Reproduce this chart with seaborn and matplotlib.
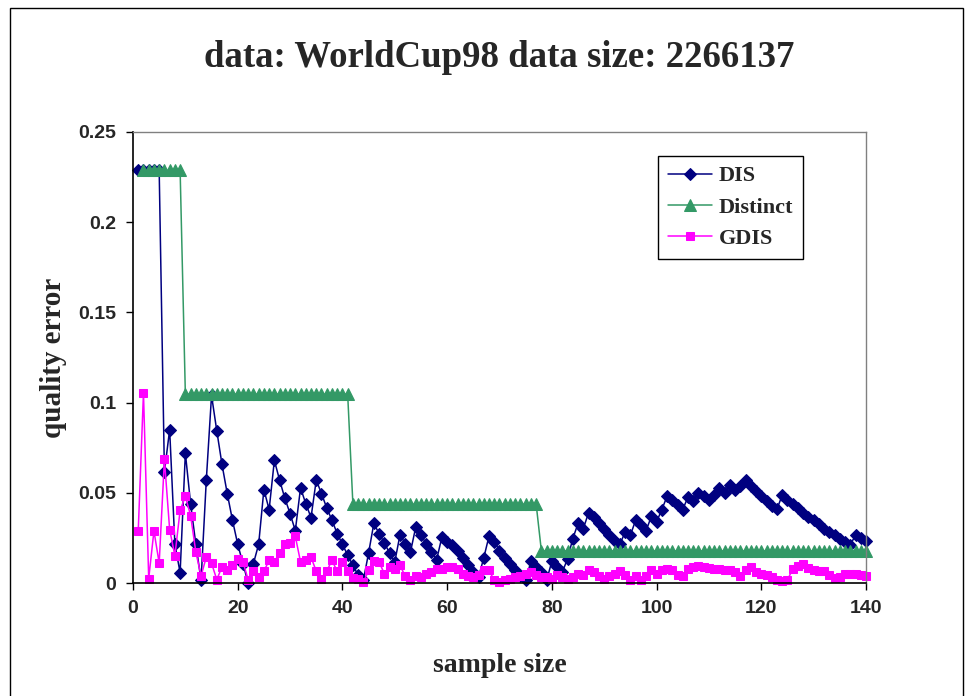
import numpy as np
import pandas as pd
import seaborn as sns
import matplotlib
matplotlib.use("Agg")
import matplotlib.pyplot as plt
from matplotlib.patches import Rectangle

# sample sizes 1..140
sample_size = list(range(1, 141))

dis = [0.2287, 0.2287, 0.2287, 0.2287, 0.2287, 0.0616, 0.085, 0.0215, 0.0057, 0.072,
       0.044, 0.0215, 0.0015, 0.057, 0.104, 0.0844, 0.0657, 0.0496, 0.0348, 0.0215,
       0.0107, 0.0, 0.0107, 0.0215, 0.0518, 0.0407, 0.068, 0.057, 0.047, 0.0385,
       0.029, 0.0527, 0.044, 0.0363, 0.057, 0.0496, 0.0416, 0.0348, 0.0274, 0.0215,
       0.0154, 0.0098, 0.0043, 0.0015, 0.0167, 0.033, 0.0274, 0.0222, 0.0167, 0.0117,
       0.0268, 0.0218, 0.0172, 0.031, 0.0265, 0.0218, 0.0172, 0.013, 0.0255, 0.0225,
       0.021, 0.018, 0.014, 0.0098, 0.006, 0.0033, 0.014, 0.026, 0.0228, 0.018,
       0.014, 0.0104, 0.007, 0.004, 0.0015, 0.012, 0.009, 0.006, 0.0015, 0.012,
       0.009, 0.006, 0.0135, 0.0246, 0.033, 0.030, 0.0389, 0.0366, 0.033, 0.030,
       0.0265, 0.0233, 0.0215, 0.0283, 0.0265, 0.0348, 0.032, 0.0289, 0.037, 0.0339,
       0.0407, 0.048, 0.0462, 0.043, 0.0407, 0.0477, 0.0455, 0.050, 0.048, 0.0459,
       0.049, 0.0524, 0.050, 0.0542, 0.0518, 0.0537, 0.057, 0.0537, 0.051, 0.048,
       0.0455, 0.0426, 0.041, 0.0487, 0.0459, 0.0437, 0.0413, 0.0389, 0.0366, 0.0348,
       0.0326, 0.0302, 0.0283, 0.0265, 0.0246, 0.0228, 0.0212, 0.0265, 0.025, 0.0233]

distinct = ([np.nan] + [0.2287] * 8 + [0.1047] * 32 + [0.0437] * 36 + [0.0178] * 63)

gdis = [0.0289, 0.1055, 0.0024, 0.0289, 0.011, 0.0685, 0.0296, 0.0152, 0.0403, 0.048,
        0.0374, 0.0172, 0.0039, 0.0144, 0.011, 0.0019, 0.0089, 0.0074, 0.0102, 0.0135,
        0.0117, 0.0019, 0.0065, 0.0033, 0.0065, 0.0126, 0.0117, 0.0167, 0.0215, 0.0222,
        0.0259, 0.0117, 0.0126, 0.0144, 0.0065, 0.0024, 0.0065, 0.0126, 0.0065, 0.0117,
        0.0065, 0.0025, 0.0024, 0.0003, 0.007, 0.0122, 0.0117, 0.0052, 0.0089, 0.008,
        0.0098, 0.0037, 0.0018, 0.0037, 0.0033, 0.0052, 0.0061, 0.008, 0.008, 0.0089,
        0.0089, 0.008, 0.0052, 0.0037, 0.0033, 0.0043, 0.007, 0.007, 0.0015, 0.0006,
        0.0015, 0.0024, 0.0033, 0.0037, 0.0052, 0.006, 0.0043, 0.0033, 0.0033, 0.0024,
        0.0043, 0.0033, 0.0024, 0.0033, 0.0048, 0.0043, 0.007, 0.006, 0.0037, 0.0024,
        0.0037, 0.0052, 0.0067, 0.0043, 0.0018, 0.0037, 0.0018, 0.0037, 0.007, 0.0052,
        0.007, 0.008, 0.007, 0.0043, 0.0037, 0.008, 0.0089, 0.0093, 0.0089, 0.0085,
        0.008, 0.008, 0.0074, 0.007, 0.006, 0.0037, 0.007, 0.0089, 0.006, 0.0052,
        0.0043, 0.0033, 0.0015, 0.001, 0.0015, 0.008, 0.0095, 0.0105, 0.0085, 0.007,
        0.0068, 0.0066, 0.0045, 0.003, 0.0035, 0.0048, 0.005, 0.0048, 0.0045, 0.004]

x_ticks = [0, 20, 40, 60, 80, 100, 120, 140]
y_ticks = [0, 0.05, 0.1, 0.15, 0.2, 0.25]
y_tick_labels = ["0", "0.05", "0.1", "0.15", "0.2", "0.25"]

df = pd.DataFrame({"sample size": sample_size, "DIS": dis, "Distinct": distinct, "GDIS": gdis})

sns.set_style("white")
serif = ["Liberation Serif", "DejaVu Serif"]
sans = ["Liberation Sans", "DejaVu Sans"]

fig = plt.figure(figsize=(9.7, 6.96), dpi=100)
ax = fig.add_axes([133 / 970, 1 - 583 / 696, 733 / 970, 451 / 696])

sns.lineplot(data=df, x="sample size", y="DIS", ax=ax, color="#000080", lw=1.1,
             marker="D", markersize=6, markeredgecolor="#000080", label="DIS", clip_on=False)
sns.lineplot(data=df, x="sample size", y="Distinct", ax=ax, color="#339966", lw=1.1,
             marker="^", markersize=8, markeredgecolor="#339966", label="Distinct", clip_on=False)
sns.lineplot(data=df, x="sample size", y="GDIS", ax=ax, color="#FF00FF", lw=1.1,
             marker="s", markersize=6, markeredgecolor="#FF00FF", label="GDIS", clip_on=False)

ax.set_xlim(0, 140)
ax.set_ylim(0, 0.25)
ax.set_xticks(x_ticks)
ax.set_xticklabels([str(t) for t in x_ticks], family=sans, fontweight="bold", fontsize=14)
ax.set_yticks(y_ticks)
ax.set_yticklabels(y_tick_labels, family=sans, fontweight="bold", fontsize=14)
ax.tick_params(axis="both", direction="out", length=5, width=1, color="black", pad=7, bottom=True, left=True)

for side in ["left", "bottom"]:
    ax.spines[side].set_color("black")
    ax.spines[side].set_linewidth(1.2)
for side in ["top", "right"]:
    ax.spines[side].set_color("#808080")
    ax.spines[side].set_linewidth(1)

ax.set_xlabel("sample size", family=serif, fontweight="bold", fontsize=20, labelpad=26)
ax.set_ylabel("quality error", family=serif, fontweight="bold", fontsize=21, labelpad=8)
ax.set_title("data: WorldCup98 data size: 2266137", family=serif, fontweight="bold",
             fontsize=26.5, pad=47)

leg = ax.legend(loc="upper left", bbox_to_anchor=(0.716, 0.947), frameon=True, fancybox=False,
                edgecolor="black", framealpha=1, borderpad=0.45, handlelength=2.0,
                handletextpad=0.3, labelspacing=0.48, borderaxespad=0,
                prop={"family": serif, "weight": "bold", "size": 16})
leg.get_frame().set_linewidth(1)

fig.patches.append(Rectangle((10 / 970, -0.01), 953 / 970, 1 - 8 / 696 + 0.01,
                             transform=fig.transFigure, fill=False, edgecolor="black", lw=1))

fig.savefig("out.png", dpi=100)
